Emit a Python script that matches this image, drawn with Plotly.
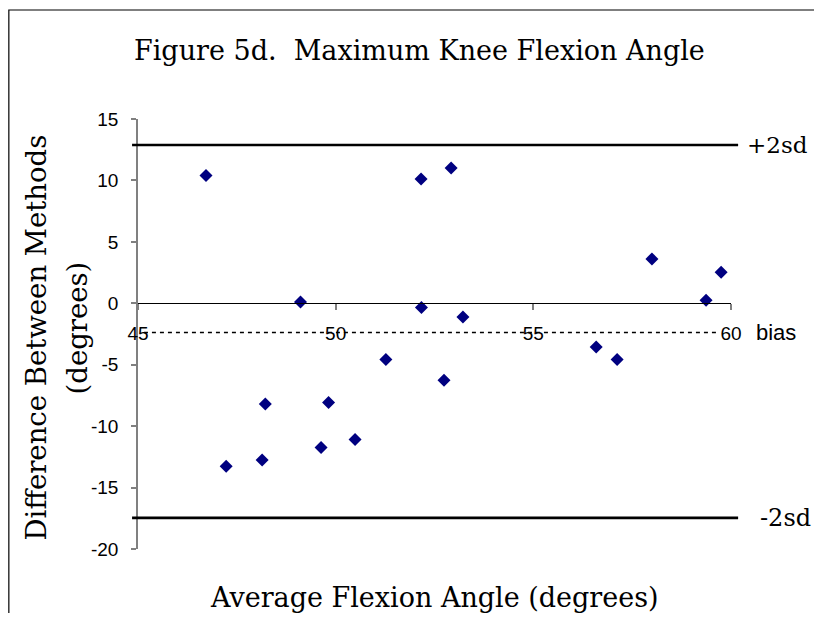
import plotly.graph_objects as go

# ---- data ----
avg_angle = [46.72, 49.11, 52.16, 52.92, 52.17, 53.22, 58.00, 59.75, 59.37, 56.59,
             57.12, 51.27, 48.22, 49.82, 47.23, 48.14, 49.63, 50.49, 52.74]
difference = [10.41, 0.11, 10.11, 11.01, -0.35, -1.11, 3.61, 2.52, 0.24, -3.55,
              -4.58, -4.58, -8.19, -8.08, -13.26, -12.75, -11.74, -11.09, -6.27]
upper_limit = 12.88   # +2sd
bias = -2.38
lower_limit = -17.47  # -2sd

x_tickvals = [45, 50, 55, 60]
x_ticktext = ["45", "50", "55", "60"]
y_tickvals = [15, 10, 5, 0, -5, -10, -15, -20]
y_ticktext = ["15", "10", "5", "0", "-5", "-10", "-15", "-20"]

SERIF = "DejaVu Serif"
SANS = "Liberation Sans, Arial"

fig = go.Figure()
fig.add_trace(go.Scatter(
    x=avg_angle, y=difference, mode="markers",
    marker=dict(symbol="diamond", size=10, color="#000080", line=dict(width=0)),
    showlegend=False, hoverinfo="x+y", cliponaxis=False,
))

# limit lines and bias line
fig.add_shape(type="line", xref="paper", yref="y", x0=-0.01, x1=1.012,
              y0=upper_limit, y1=upper_limit, line=dict(color="black", width=2.6))
fig.add_shape(type="line", xref="paper", yref="y", x0=-0.01, x1=1.012,
              y0=lower_limit, y1=lower_limit, line=dict(color="black", width=2.6))
fig.add_shape(type="line", xref="paper", yref="y", x0=0.01, x1=0.975,
              y0=bias, y1=bias, line=dict(color="black", width=1.5, dash="4px,4px"))

# outer frame (left and top edges visible; the rest runs off the page)
fig.add_shape(type="rect", xref="paper", yref="paper",
              x0=-0.2178, x1=1.4, y0=-0.5, y1=1.2535,
              line=dict(color="black", width=1.2), layer="below")

ann = []
ann.append(dict(text="+2sd", xref="paper", yref="y", x=1, y=upper_limit,
                xanchor="left", yanchor="middle", xshift=14, showarrow=False,
                font=dict(family=SERIF, size=23, color="black")))
ann.append(dict(text="-2sd", xref="paper", yref="y", x=1, y=lower_limit,
                xanchor="left", yanchor="middle", xshift=27, showarrow=False,
                font=dict(family=SERIF, size=24, color="black")))
ann.append(dict(text="bias", xref="paper", yref="y", x=1, y=bias,
                xanchor="left", yanchor="middle", xshift=23, showarrow=False,
                font=dict(family=SANS, size=22, color="black")))
ann.append(dict(text="Difference Between Methods", xref="paper", yref="paper",
                x=0, y=0.492, xanchor="center", yanchor="middle", xshift=-102,
                textangle=-90, showarrow=False,
                font=dict(family=SERIF, size=27.5, color="black")))
ann.append(dict(text="(degrees)", xref="paper", yref="paper",
                x=0, y=0.513, xanchor="center", yanchor="middle", xshift=-61,
                textangle=-90, showarrow=False,
                font=dict(family=SERIF, size=27.5, color="black")))
ann.append(dict(text="Average Flexion Angle (degrees)", xref="paper", yref="paper",
                x=0.5, y=0, xanchor="center", yanchor="middle", yshift=-48,
                showarrow=False, font=dict(family=SERIF, size=27, color="black")))
ann.append(dict(text="Figure 5d.&nbsp; Maximum Knee Flexion Angle", xref="paper",
                yref="paper", x=0.475, y=1, xanchor="center", yanchor="middle",
                yshift=69, showarrow=False,
                font=dict(family=SERIF, size=27, color="black")))

fig.update_layout(
    width=814, height=605,
    margin=dict(l=130, r=91, t=111, b=64, pad=0),
    paper_bgcolor="white", plot_bgcolor="white",
    annotations=ann,
    xaxis=dict(range=[45, 60], tickvals=x_tickvals, ticktext=x_ticktext,
               anchor="free", position=20/35, showgrid=False, zeroline=False,
               showline=True, linecolor="black", linewidth=1,
               ticks="outside", ticklen=6, tickcolor="#808080", tickwidth=1.5,
               ticklabelstandoff=7,
               tickfont=dict(family=SANS, size=19, color="black")),
    yaxis=dict(range=[-20, 15], tickvals=y_tickvals, ticktext=y_ticktext,
               showgrid=False, zeroline=False, showline=True,
               linecolor="#808080", linewidth=1.5,
               ticks="outside", ticklen=5, tickcolor="#808080", tickwidth=1.5,
               ticklabelstandoff=9,
               tickfont=dict(family=SANS, size=19, color="black")),
)

fig.write_html("out.html")
